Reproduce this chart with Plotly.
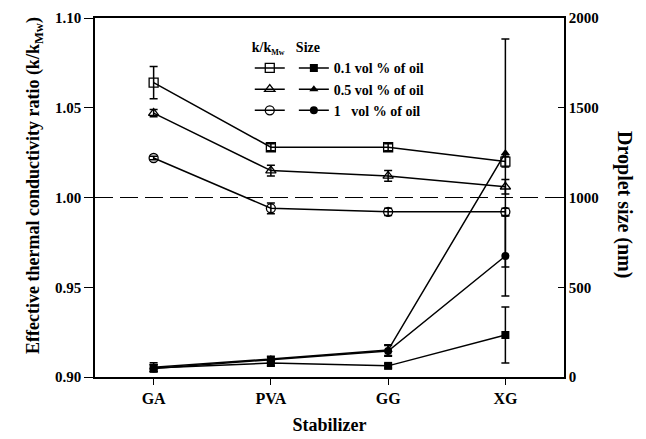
import plotly.graph_objects as go

stabilizers = ["GA", "PVA", "GG", "XG"]
conc_labels = ["0.1 vol % of oil", "0.5 vol % of oil", "1\u00a0\u00a0\u00a0vol % of oil"]

k_01 = [1.064, 1.028, 1.028, 1.020]
k_01_err = [0.009, 0.002, 0.002, 0.003]
k_05 = [1.047, 1.015, 1.012, 1.006]
k_05_err = [0.002, 0.003, 0.003, 0.004]
k_1 = [1.022, 0.994, 0.992, 0.992]
k_1_err = [0.001, 0.003, 0.002, 0.002]

size_01 = [50, 78, 62, 234]
size_01_err = [20, 15, 12, 156]
size_05 = [55, 100, 150, 1248]
size_05_err = [25, 15, 30, 635]
size_1 = [48, 95, 145, 674]
size_1_err = [20, 15, 30, 223]

FONT = "Liberation Serif"
fig = go.Figure()

open_syms = ["square-open", "triangle-up-open", "circle-open"]
fill_syms = ["square", "triangle-up", "circle"]
k_vals = [k_01, k_05, k_1]
k_errs = [k_01_err, k_05_err, k_1_err]
s_vals = [size_01, size_05, size_1]
s_errs = [size_01_err, size_05_err, size_1_err]

for i in range(3):
    fig.add_trace(go.Scatter(
        x=stabilizers, y=k_vals[i], mode="lines+markers", name=" ",
        line=dict(color="black", width=1.5),
        marker=dict(symbol=open_syms[i], size=9, color="black", line=dict(width=1.3, color="black")),
        error_y=dict(type="data", array=k_errs[i], color="black", thickness=1.5, width=4),
        legend="legend", yaxis="y"))
for i in range(3):
    fig.add_trace(go.Scatter(
        x=stabilizers, y=s_vals[i], mode="lines+markers", name=conc_labels[i],
        line=dict(color="black", width=1.5),
        marker=dict(symbol=fill_syms[i], size=8, color="black"),
        error_y=dict(type="data", array=s_errs[i], color="black", thickness=1.5, width=4),
        legend="legend2", yaxis="y2"))

fig.add_shape(type="line", xref="paper", x0=0, x1=1, yref="y", y0=1.0, y1=1.0,
              line=dict(color="black", width=1.2, dash="18px,7px"))

fig.add_annotation(text="Droplet size (nm)", xref="paper", yref="paper", x=1.13, y=0.479,
                   xanchor="center", yanchor="middle",
                   textangle=90, showarrow=False, font=dict(family=FONT, size=20, color="black", weight="bold"))
fig.add_annotation(text="Effective thermal conductivity ratio (k/k<sub>Mw</sub>)", xref="paper", yref="paper",
                   x=-0.13, y=0.532, xanchor="center", yanchor="middle",
                   textangle=-90, showarrow=False, font=dict(family=FONT, size=18, color="black", weight="bold"))

tickfont = dict(family=FONT, size=15, color="black", weight="bold")
xtickfont = dict(family=FONT, size=16, color="black", weight="bold")
legfont = dict(family=FONT, size=14, color="black", weight="bold")
fig.update_layout(
    width=638, height=431,
    margin=dict(l=87, r=82, t=10, b=62, autoexpand=False),
    paper_bgcolor="white", plot_bgcolor="white",
    xaxis=dict(range=[-0.5, 3.5], showline=True, linecolor="black", linewidth=1.5, mirror=True,
               ticks="outside", ticklen=6, tickcolor="black", tickwidth=1.3, tickfont=xtickfont,
               automargin=False,
               title=dict(text="Stabilizer", font=dict(family=FONT, size=18, color="black", weight="bold"), standoff=12),
               showgrid=False, zeroline=False),
    yaxis=dict(range=[0.90, 1.10], dtick=0.05, tickformat=".2f", showline=True, linecolor="black", linewidth=1.5,
               ticks="outside", ticklen=9, tickcolor="black", tickwidth=1.3, tickfont=tickfont,
               automargin=False, showgrid=False, zeroline=False),
    yaxis2=dict(range=[0, 2000], dtick=500, overlaying="y", side="right", showline=True, linecolor="black",
                linewidth=1.5, ticks="inside", ticklen=6, tickcolor="black", tickwidth=1.3, tickfont=tickfont,
                automargin=False, showgrid=False, zeroline=False),
    legend=dict(x=0.33, y=0.955, xanchor="left", yanchor="top", bgcolor="rgba(0,0,0,0)",
                title=dict(text="k/k<sub><span style='font-size:8px'>Mw</span></sub>", font=legfont),
                font=legfont, tracegroupgap=0, itemwidth=30),
    legend2=dict(x=0.424, y=0.955, xanchor="left", yanchor="top", bgcolor="rgba(0,0,0,0)",
                 title=dict(text="Size", font=legfont),
                 font=legfont, tracegroupgap=0, itemwidth=30),
    showlegend=True,
)

fig.write_html("out.html")
